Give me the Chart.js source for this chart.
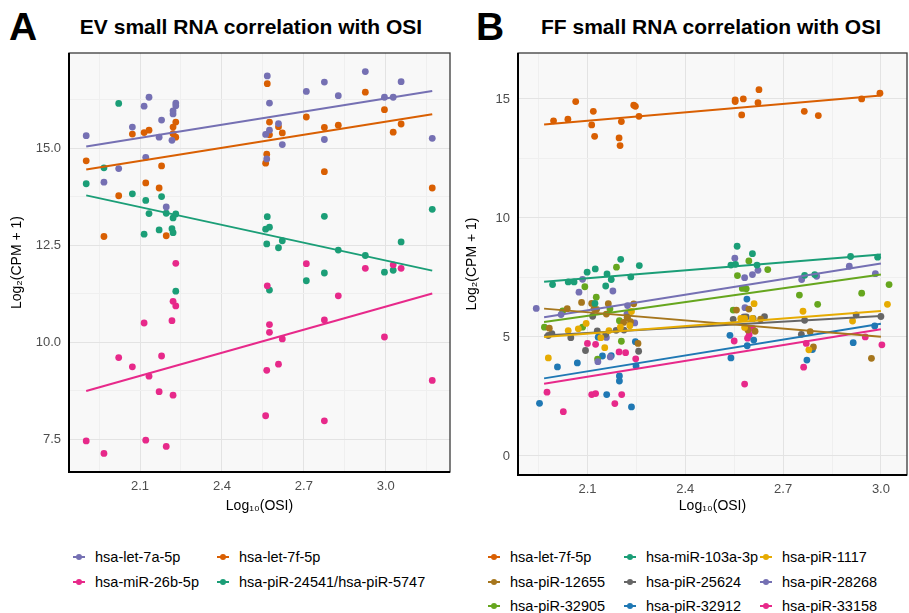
<!DOCTYPE html>
<html>
<head>
<meta charset="utf-8">
<script src="https://cdn.jsdelivr.net/npm/chart.js@4.4.0/dist/chart.umd.min.js"></script>
<style>
  html, body { margin: 0; padding: 0; background: #fff; width: 909px; height: 613px; overflow: hidden;
    font-family: "Liberation Sans", Arial, sans-serif; }
  canvas { position: absolute; top: 0; }
  .tag { position: absolute; font-weight: bold; font-size: 39px; line-height: 1; color: #000; }
  .title { position: absolute; font-weight: bold; font-size: 21px; white-space: nowrap; transform: translate(-50%, -50%); color: #000; }
  .item { position: absolute; font-size: 14.5px; white-space: nowrap; transform: translateY(-50%); color: #000; }
  .key { position: absolute; width: 12px; height: 12px; transform: translate(-50%, -50%); }
  .key::before { content: ""; position: absolute; left: 0; top: 5px; width: 12px; height: 2px; background: var(--c); }
  .key::after { content: ""; position: absolute; left: 3px; top: 3px; width: 6px; height: 6px; border-radius: 50%; background: var(--c); }
</style>
</head>
<body>
<div class="tag" style="left:9px;top:7px">A</div>
<div class="tag" style="left:476px;top:7px">B</div>
<div class="title" style="left:251px;top:27px">EV small RNA correlation with OSI</div>
<div class="title" style="left:711px;top:27px">FF small RNA correlation with OSI</div>
<canvas id="chartA" width="455" height="525" style="left:0"></canvas>
<canvas id="chartB" width="456" height="525" style="left:455px"></canvas>
<div id="legends"></div>
<script>
// ---- colours (Dark2-like) ----
const PURPLE = '#7570B3', ORANGE = '#D95F02', PINK = '#E7298A', TEAL = '#1B9E77';
const LIME = '#66A61E', GOLD = '#E6AB02', BROWN = '#A6761D', GREY = '#666666', BLUE = '#1F78B4';

// ---- panel A: EV, points as [log10(OSI), log2(CPM+1)] ----
const evLet7a = [[1.903,15.32],[2.133,16.31],[2.115,16.08],[2.231,16.16],[2.231,16.09],[2.221,15.96],[2.221,15.88],[2.179,15.72],[2.072,15.54],[2.170,15.28],[2.217,15.20],[2.121,14.76],[2.022,14.47],[1.968,14.12],[2.196,13.48],
  [2.566,16.86],[2.574,16.16],[2.560,15.35],[2.574,15.46],[2.607,15.63],[2.621,15.09],[2.564,14.72],[2.709,16.46],[2.775,16.70],[2.826,16.35],[2.775,15.22],[2.925,16.97],[2.995,16.31],[3.027,16.31],[3.056,16.71],[3.170,15.25]];
const evLet7f = [[1.903,14.67],[2.072,15.36],[2.115,15.40],[2.133,15.46],[2.231,15.67],[2.221,15.54],[2.221,15.37],[2.231,15.28],[2.179,14.54],[2.121,14.10],[2.170,13.97],[2.022,13.77],[1.968,12.72],[2.196,12.74],
  [2.566,16.66],[2.574,15.67],[2.607,15.55],[2.574,15.34],[2.621,15.39],[2.564,14.84],[2.560,14.61],[2.709,15.80],[2.775,15.53],[2.826,15.59],[2.775,14.39],[2.925,16.44],[2.995,15.99],[3.027,15.41],[3.056,15.62],[3.170,13.97]];
const evMiR26b = [[2.231,12.03],[2.221,11.05],[2.231,10.93],[2.115,10.49],[2.217,10.55],[2.022,9.60],[2.072,9.36],[2.179,9.64],[2.133,9.12],[2.170,8.72],[2.221,8.63],[1.903,7.45],[1.968,7.13],[2.121,7.47],[2.196,7.31],
  [2.566,11.45],[2.574,10.45],[2.574,10.25],[2.621,10.08],[2.564,9.27],[2.607,9.43],[2.560,8.10],[2.775,7.97],[2.709,12.02],[2.826,11.19],[2.775,10.57],[2.925,11.90],[3.027,11.99],[3.056,11.90],[2.995,10.13],[3.170,9.01]];
const evPiR24541 = [[2.022,16.15],[1.903,14.08],[1.968,14.49],[2.072,13.82],[2.121,13.65],[2.179,13.75],[2.133,13.31],[2.196,13.32],[2.231,13.30],[2.221,13.20],[2.115,12.78],[2.170,12.89],[2.217,12.92],[2.221,12.82],[2.231,11.31],
  [2.566,13.23],[2.560,12.91],[2.574,12.96],[2.564,12.53],[2.621,12.61],[2.607,12.43],[2.775,13.24],[2.826,12.37],[2.925,12.23],[3.056,12.58],[3.170,13.42],[2.709,11.58],[2.775,11.78],[2.995,11.80],[3.027,11.85],[2.574,11.34]];
// fitted lines, read at both ends of the x range
const evFitX = [1.903, 3.170];
const evFitLet7a = [15.04, 16.47];
const evFitLet7f = [14.45, 15.87];
const evFitMiR26b = [8.74, 11.25];
const evFitPiR24541 = [13.78, 11.84];

// ---- panel B: FF ----
const ffLet7f = [[1.996,14.08],[2.040,14.15],[2.064,14.89],[2.118,14.48],[2.113,13.91],[2.122,13.43],[2.204,14.05],[2.197,13.36],[2.200,13.04],[2.242,14.74],[2.247,14.69],[2.258,14.27],
  [2.553,14.96],[2.553,14.89],[2.578,15.00],[2.573,14.33],[2.626,15.39],[2.623,14.84],[2.765,14.48],[2.808,14.30],[2.941,15.00],[2.997,15.24]];
const ffMiR103a = [[2.202,8.26],[2.259,8.00],[2.124,7.86],[2.099,7.72],[2.160,7.65],[2.233,7.52],[2.173,7.41],[1.993,7.20],[2.041,7.31],[2.059,7.31],[2.156,7.14],[2.123,6.41],
  [2.559,8.81],[2.606,8.50],[2.540,8.02],[2.554,8.05],[2.620,8.02],[2.766,7.59],[2.797,7.62],[2.907,8.38],[2.990,8.35]];
const ffPiR1117 = [[1.980,4.12],[2.041,5.27],[2.072,5.34],[2.096,5.57],[2.153,4.55],[2.141,4.97],[2.166,5.27],[2.201,5.41],[2.235,6.07],[2.230,5.47],
  [2.611,6.40],[2.570,5.78],[2.582,5.78],[2.582,5.40],[2.606,5.78],[2.761,6.08],[2.779,4.46],[2.913,5.67],[3.020,6.37]];
const ffPiR12655 = [[2.082,6.45],[2.038,6.19],[1.983,5.37],[2.113,6.41],[2.120,6.18],[2.128,6.16],[2.164,6.40],[2.158,5.96],[2.222,5.81],[2.242,6.39],[2.232,5.64],[2.255,4.73],[2.211,5.61],
  [2.557,6.13],[2.595,6.17],[2.592,5.29],[2.614,5.24],[2.631,5.75],[2.783,5.22],[2.793,4.58],[2.971,4.10]];
const ffPiR25624 = [[1.980,5.06],[1.991,5.14],[2.049,4.97],[2.094,4.43],[2.116,5.87],[2.130,5.25],[2.156,5.11],[2.188,5.28],[2.212,5.29],[2.222,5.82],[2.257,4.40],
  [2.547,5.74],[2.580,5.82],[2.587,5.84],[2.608,5.78],[2.643,5.85],[2.766,5.70],[2.756,5.11],[2.924,5.93],[3.000,5.86]];
const ffPiR28268 = [[1.943,6.20],[2.085,7.42],[2.074,6.88],[2.178,6.93],[2.019,5.94],[2.223,6.32],[2.221,5.96],[2.245,5.59],[2.158,4.98],[2.170,4.16],[2.132,3.96],
  [2.552,8.31],[2.606,7.62],[2.582,7.49],[2.623,7.80],[2.583,6.23],[2.580,5.84],[2.757,7.41],[2.803,7.55],[2.903,7.97],[2.983,7.66]];
const ffPiR32905 = [[2.189,7.93],[2.092,7.11],[2.127,6.67],[1.968,5.41],[2.024,6.09],[2.169,6.18],[2.198,5.68],[2.204,4.82],[2.085,5.41],[2.131,4.07],
  [2.595,8.19],[2.560,7.58],[2.653,7.83],[2.587,7.02],[2.575,7.04],[2.547,6.13],[2.750,6.76],[2.806,6.37],[2.941,6.84],[3.025,7.20]];
const ffPiR32912 = [[1.953,2.21],[2.008,3.74],[2.069,3.91],[2.133,4.99],[2.146,4.20],[2.173,4.21],[2.159,2.58],[2.198,3.36],[2.198,3.15],[2.235,2.06],[2.247,4.80],[2.249,3.78],
  [2.589,6.59],[2.537,5.07],[2.610,4.87],[2.590,4.63],[2.540,4.12],[2.790,4.47],[2.773,4.03],[2.915,4.76],[2.981,5.46]];
const ffPiR33158 = [[1.976,2.68],[2.026,1.86],[2.100,4.73],[2.125,4.69],[2.113,2.58],[2.125,2.62],[2.184,2.20],[2.205,2.58],[2.197,4.37],[2.217,4.34],[2.248,4.08],
  [2.550,4.83],[2.592,5.33],[2.596,5.09],[2.591,4.95],[2.606,5.36],[2.582,3.02],[2.771,4.73],[2.763,3.73],[2.952,5.00],[3.003,4.67]];
const ffFitX = [1.967, 3.0];
const ffFitLet7f = [13.93, 15.14];
const ffFitMiR103a = [7.32, 8.46];
const ffFitPiR1117 = [5.00, 6.09];
const ffFitPiR12655 = [6.19, 5.01];
const ffFitPiR25624 = [5.06, 5.88];
const ffFitPiR28268 = [5.83, 8.09];
const ffFitPiR32905 = [5.63, 7.62];
const ffFitPiR32912 = [3.26, 5.55];
const ffFitPiR33158 = [3.03, 5.32];

// ---- ticks ----
const xMajor = [2.1, 2.4, 2.7, 3.0];
const xMinor = [1.95, 2.25, 2.55, 2.85, 3.15];
const evYMajor = [7.5, 10, 12.5, 15];
const evYMinor = [8.75, 11.25, 13.75, 16.25];
const ffYMajor = [0, 5, 10, 15];
const ffYMinor = [2.5, 7.5, 12.5];

const seriesA = [
  { name: 'hsa-let-7a-5p', color: PURPLE, pts: evLet7a, fit: evFitLet7a },
  { name: 'hsa-let-7f-5p', color: ORANGE, pts: evLet7f, fit: evFitLet7f },
  { name: 'hsa-miR-26b-5p', color: PINK, pts: evMiR26b, fit: evFitMiR26b },
  { name: 'hsa-piR-24541/hsa-piR-5747', color: TEAL, pts: evPiR24541, fit: evFitPiR24541 }
];
const seriesB = [
  { name: 'hsa-let-7f-5p', color: ORANGE, pts: ffLet7f, fit: ffFitLet7f },
  { name: 'hsa-miR-103a-3p', color: TEAL, pts: ffMiR103a, fit: ffFitMiR103a },
  { name: 'hsa-piR-1117', color: GOLD, pts: ffPiR1117, fit: ffFitPiR1117 },
  { name: 'hsa-piR-12655', color: BROWN, pts: ffPiR12655, fit: ffFitPiR12655 },
  { name: 'hsa-piR-25624', color: GREY, pts: ffPiR25624, fit: ffFitPiR25624 },
  { name: 'hsa-piR-28268', color: PURPLE, pts: ffPiR28268, fit: ffFitPiR28268 },
  { name: 'hsa-piR-32905', color: LIME, pts: ffPiR32905, fit: ffFitPiR32905 },
  { name: 'hsa-piR-32912', color: BLUE, pts: ffPiR32912, fit: ffFitPiR32912 },
  { name: 'hsa-piR-33158', color: PINK, pts: ffPiR33158, fit: ffFitPiR33158 }
];

const FONT = '"Liberation Sans", Arial, sans-serif';
const near = (v, arr) => arr.some(a => Math.abs(a - v) < 1e-6);
// only keep ticks that sit inside the axis range, otherwise Chart.js pads the area for them
const tickList = (vals, lo, hi) => vals.filter(v => v >= lo && v <= hi).sort((a, b) => a - b).map(v => ({ value: v }));

// panel background + frame
const panelPlugin = {
  id: 'panel',
  beforeDraw(chart) {
    const { ctx, chartArea: a } = chart;
    ctx.save();
    ctx.fillStyle = '#f8f8f8';
    ctx.fillRect(a.left, a.top, a.right - a.left, a.bottom - a.top);
    ctx.restore();
  },
  afterDraw(chart) {
    const { ctx, chartArea: a } = chart;
    ctx.save();
    ctx.strokeStyle = '#3a3a3a';
    ctx.lineWidth = 1.3;
    ctx.strokeRect(a.left, a.top, a.right - a.left, a.bottom - a.top);
    ctx.strokeStyle = '#000';
    ctx.lineWidth = 2;
    ctx.beginPath();
    ctx.moveTo(a.left, a.top);
    ctx.lineTo(a.left, a.bottom);
    ctx.lineTo(a.right, a.bottom);
    ctx.stroke();
    ctx.restore();
  }
};

function makePanel(id, series, fitX, cfg) {
  const datasets = [];
  series.forEach(s => {
    datasets.push({
      type: 'line', data: fitX.map((x, i) => ({ x, y: s.fit[i] })),
      borderColor: s.color, borderWidth: 2, pointRadius: 0, fill: false, order: 0
    });
  });
  series.forEach(s => {
    datasets.push({
      type: 'scatter', data: s.pts.map(p => ({ x: p[0], y: p[1] })),
      backgroundColor: s.color, borderWidth: 0, pointRadius: 3.4, order: 1
    });
  });
  new Chart(document.getElementById(id), {
    data: { datasets },
    plugins: [panelPlugin],
    options: {
      responsive: false, animation: false,
      layout: { padding: { top: 53, right: cfg.padRight, left: 0, bottom: 0 } },
      plugins: { legend: { display: false }, tooltip: { enabled: false } },
      scales: {
        x: {
          type: 'linear', min: cfg.xMin, max: cfg.xMax,
          afterBuildTicks: s => { s.ticks = tickList(xMajor.concat(xMinor), cfg.xMin, cfg.xMax); },
          afterFit: s => { s.height = cfg.xAxisH; },
          ticks: { autoSkip: false, maxRotation: 0, padding: 7, color: '#4d4d4d', font: { family: FONT, size: 13 },
            callback: v => near(v, xMajor) ? v.toFixed(1) : '' },
          grid: { drawTicks: false, color: c => near(c.tick.value, xMajor) ? '#e3e3e3' : '#efefef', lineWidth: 1 },
          border: { display: false },
          title: { display: true, text: 'Log₁₀(OSI)', color: '#000', font: { family: FONT, size: 14 }, padding: { top: 0, bottom: 10 } }
        },
        y: {
          type: 'linear', min: cfg.yMin, max: cfg.yMax,
          afterBuildTicks: s => { s.ticks = tickList(cfg.yMajor.concat(cfg.yMinor), cfg.yMin, cfg.yMax); },
          afterFit: s => { s.width = cfg.yAxisW; },
          ticks: { autoSkip: false, padding: 8, color: '#4d4d4d', font: { family: FONT, size: 13 },
            callback: v => near(v, cfg.yMajor) ? cfg.yFmt(v) : '' },
          grid: { drawTicks: false, color: c => near(c.tick.value, cfg.yMajor) ? '#e3e3e3' : '#efefef', lineWidth: 1 },
          border: { display: false },
          title: { display: true, text: 'Log₂(CPM + 1)', color: '#000', font: { family: FONT, size: 14 }, padding: { top: 9, bottom: 0 } }
        }
      }
    }
  });
}

makePanel('chartA', seriesA, evFitX, {
  xMin: 1.840, xMax: 3.235, yMin: 6.65, yMax: 17.45, yMajor: evYMajor, yMinor: evYMinor,
  yFmt: v => v.toFixed(1), padRight: 5, yAxisW: 69, xAxisH: 53
});
makePanel('chartB', seriesB, ffFitX, {
  xMin: 1.887, xMax: 3.08, yMin: -0.8, yMax: 16.93, yMajor: ffYMajor, yMinor: ffYMinor,
  yFmt: v => String(v), padRight: 0, yAxisW: 63, xAxisH: 50
});

// legends (row-major, like the ggplot guides)
function buildLegend(series, colX, rowY, nCol) {
  const host = document.getElementById('legends');
  series.forEach((s, i) => {
    const cx = colX[i % nCol], cy = rowY[Math.floor(i / nCol)];
    const key = document.createElement('div');
    key.className = 'key';
    key.style.left = cx + 'px'; key.style.top = cy + 'px';
    key.style.setProperty('--c', s.color);
    const txt = document.createElement('div');
    txt.className = 'item';
    txt.style.left = (cx + 16) + 'px'; txt.style.top = cy + 'px';
    txt.textContent = s.name;
    host.appendChild(key); host.appendChild(txt);
  });
}
buildLegend(seriesA, [79, 223], [557, 582], 2);
buildLegend(seriesB, [494, 630, 766], [557, 582, 606], 3);
</script>
</body>
</html>
